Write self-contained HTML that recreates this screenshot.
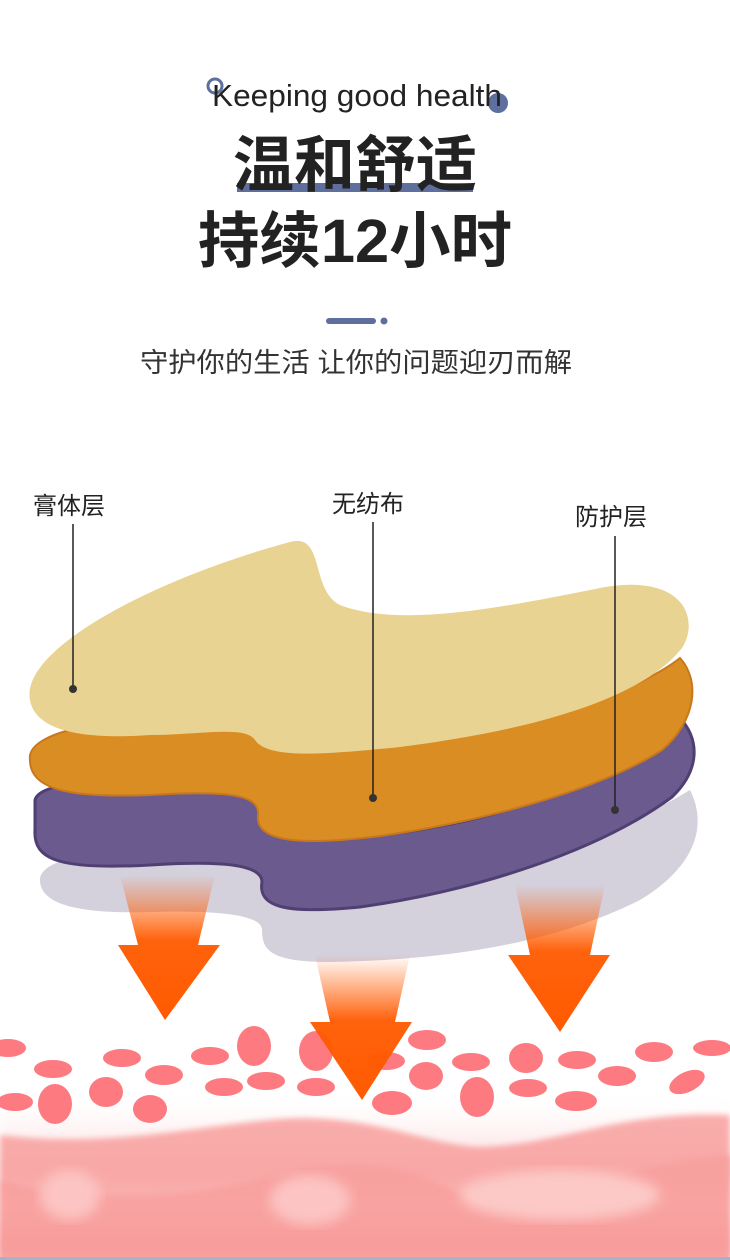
<!DOCTYPE html>
<html><head><meta charset="utf-8"><style>
html,body{margin:0;padding:0;background:#fff;}
body{width:730px;height:1260px;overflow:hidden;position:relative;font-family:"Liberation Sans","Noto Sans CJK SC",sans-serif;}
svg{position:absolute;left:0;top:0;}
</style></head><body>
<svg width="730" height="1260" viewBox="0 0 730 1260" xmlns="http://www.w3.org/2000/svg">
<defs>
<linearGradient id="a1" x1="0" y1="0" x2="0" y2="1"><stop offset="0" stop-color="#ff5a00" stop-opacity="0"/><stop offset="0.45" stop-color="#ff5a00" stop-opacity="0.95"/><stop offset="1" stop-color="#ff5a00"/></linearGradient>
<linearGradient id="skin" x1="0" y1="0" x2="0" y2="1"><stop offset="0" stop-color="#f59a9c"/><stop offset="0.5" stop-color="#fbb9b8"/><stop offset="0.85" stop-color="#f78d8f"/><stop offset="1" stop-color="#f9a8a8"/></linearGradient>
<linearGradient id="fade" x1="0" y1="0" x2="0" y2="1"><stop offset="0" stop-color="#fff" stop-opacity="0"/><stop offset="1" stop-color="#f4a2a6" stop-opacity="0.6"/></linearGradient>
<filter id="bl"><feGaussianBlur stdDeviation="6"/></filter>
<filter id="bl2"><feGaussianBlur stdDeviation="3"/></filter>
</defs>

<!-- header -->
<circle cx="215" cy="86" r="7" fill="none" stroke="#5e6f9e" stroke-width="3"/>
<circle cx="498" cy="103" r="10" fill="#5e6f9e"/>
<text x="357" y="106" text-anchor="middle" font-size="31" fill="#222" textLength="290" lengthAdjust="spacingAndGlyphs" font-family="Liberation Sans, sans-serif">Keeping good health</text>
<rect x="237" y="183" width="236" height="9" fill="#5e6f9e"/>
<text x="355" y="186" text-anchor="middle" font-size="61" font-weight="bold" fill="#222" font-family="Liberation Sans, Noto Sans CJK SC, sans-serif">温和舒适</text>
<text x="355" y="262" text-anchor="middle" font-size="61" font-weight="bold" fill="#222" textLength="314" lengthAdjust="spacingAndGlyphs" font-family="Liberation Sans, Noto Sans CJK SC, sans-serif">持续12小时</text>
<rect x="326" y="318" width="50" height="6" rx="3" fill="#5e6f9e"/>
<circle cx="384" cy="321" r="3.5" fill="#5e6f9e"/>
<text x="356" y="372" text-anchor="middle" font-size="27" fill="#333" textLength="432" lengthAdjust="spacingAndGlyphs" font-family="Liberation Sans, Noto Sans CJK SC, sans-serif">守护你的生活 让你的问题迎刃而解</text>

<!-- skin -->
<path d="M0,1180 C100,1210 200,1195 300,1170 C400,1150 450,1190 480,1205 C560,1215 620,1160 730,1155 L730,1260 L0,1260Z" fill="url(#skin)" filter="url(#bl2)"/>
<rect x="0" y="1090" width="730" height="90" fill="url(#fade)" filter="url(#bl)"/>
<path d="M0,1135 C120,1150 220,1120 300,1118 C380,1118 430,1145 480,1147 C560,1145 620,1110 730,1115 L730,1260 L0,1260Z" fill="#f8a09e" opacity="0.85" filter="url(#bl2)"/>
<ellipse cx="70" cy="1195" rx="30" ry="25" fill="#fcc4c2" filter="url(#bl)"/>
<ellipse cx="310" cy="1200" rx="40" ry="25" fill="#fcc4c2" filter="url(#bl)"/>
<ellipse cx="560" cy="1195" rx="100" ry="25" fill="#fcc9c6" filter="url(#bl)"/>
<rect x="0" y="1257" width="730" height="3" fill="#a9b0c8"/>
<g fill="#fd7a80">
<ellipse cx="8" cy="1048" rx="18" ry="9"/><ellipse cx="53" cy="1069" rx="19" ry="9"/><ellipse cx="15" cy="1102" rx="18" ry="9"/><ellipse cx="55" cy="1104" rx="17" ry="20"/>
<ellipse cx="122" cy="1058" rx="19" ry="9"/><ellipse cx="106" cy="1092" rx="17" ry="15"/><ellipse cx="164" cy="1075" rx="19" ry="10"/><ellipse cx="150" cy="1109" rx="17" ry="14"/>
<ellipse cx="210" cy="1056" rx="19" ry="9"/><ellipse cx="254" cy="1046" rx="17" ry="20"/><ellipse cx="224" cy="1087" rx="19" ry="9"/><ellipse cx="266" cy="1081" rx="19" ry="9"/>
<ellipse cx="316" cy="1051" rx="17" ry="20"/><ellipse cx="316" cy="1087" rx="19" ry="9"/><ellipse cx="386" cy="1061" rx="19" ry="9"/><ellipse cx="392" cy="1103" rx="20" ry="12"/>
<ellipse cx="427" cy="1040" rx="19" ry="10"/><ellipse cx="426" cy="1076" rx="17" ry="14"/><ellipse cx="471" cy="1062" rx="19" ry="9"/><ellipse cx="477" cy="1097" rx="17" ry="20"/>
<ellipse cx="526" cy="1058" rx="17" ry="15"/><ellipse cx="528" cy="1088" rx="19" ry="9"/><ellipse cx="577" cy="1060" rx="19" ry="9"/><ellipse cx="576" cy="1101" rx="21" ry="10"/>
<ellipse cx="617" cy="1076" rx="19" ry="10"/><ellipse cx="654" cy="1052" rx="19" ry="10"/><ellipse cx="687" cy="1082" rx="19" ry="10" transform="rotate(-25 687 1082)"/><ellipse cx="712" cy="1048" rx="19" ry="8"/>
</g>

<!-- shadow layer -->
<path d="M40,880 C40,850 150,845 250,850 C270,880 300,900 380,900 C520,880 640,820 690,790 C710,830 690,870 640,900 C560,940 460,960 330,962 C270,962 262,950 262,930 C262,915 220,910 150,912 C80,914 40,905 40,880Z" fill="#cfcbd8" opacity="0.9"/>

<!-- arrows -->
<path d="M120,875 L215,875 L198,945 L220,945 L165,1020 L118,945 L138,945Z" fill="url(#a1)"/>
<path d="M315,955 L410,955 L395,1022 L412,1022 L362,1100 L310,1022 L330,1022Z" fill="url(#a1)"/>
<path d="M515,885 L605,885 L590,955 L610,955 L560,1032 L508,955 L530,955Z" fill="url(#a1)"/>

<!-- purple -->
<path d="M35,800 C40,780 120,775 250,785 C262,800 280,822 380,835 C500,822 620,780 680,718 C700,740 700,770 672,797 C600,850 480,890 360,907 C280,915 258,905 262,882 C262,866 230,860 150,865 C60,870 33,860 35,830Z" fill="#6b5a8e" stroke="#4f3f72" stroke-width="3"/>
<!-- orange -->
<path d="M30,760 C25,730 120,710 245,728 C255,738 300,742 400,745 C520,735 640,690 680,658 C700,680 697,720 662,750 C600,790 480,822 380,836 C300,846 255,842 258,815 C260,795 230,790 150,795 C70,798 30,790 30,760Z" fill="#d98d22" stroke="#c8781a" stroke-width="2"/>
<!-- yellow -->
<path d="M30,700 C20,650 150,580 290,542 C325,532 310,590 340,605 C400,628 500,608 600,588 C685,572 700,620 682,648 C640,702 520,732 400,747 C330,754 268,760 255,740 C245,725 200,735 150,735 C80,740 35,730 30,700Z" fill="#e8d393"/>

<!-- labels -->
<g font-size="24" fill="#222" font-family="Liberation Sans, Noto Sans CJK SC, sans-serif">
<text x="33" y="514">膏体层</text>
<text x="332" y="512">无纺布</text>
<text x="575" y="525">防护层</text>
</g>
<g stroke="#222" stroke-width="1.5">
<line x1="73" y1="524" x2="73" y2="688"/>
<line x1="373" y1="522" x2="373" y2="797"/>
<line x1="615" y1="536" x2="615" y2="810"/>
</g>
<g fill="#333"><circle cx="73" cy="689" r="4"/><circle cx="373" cy="798" r="4"/><circle cx="615" cy="810" r="4"/></g>
</svg>
</body></html>
